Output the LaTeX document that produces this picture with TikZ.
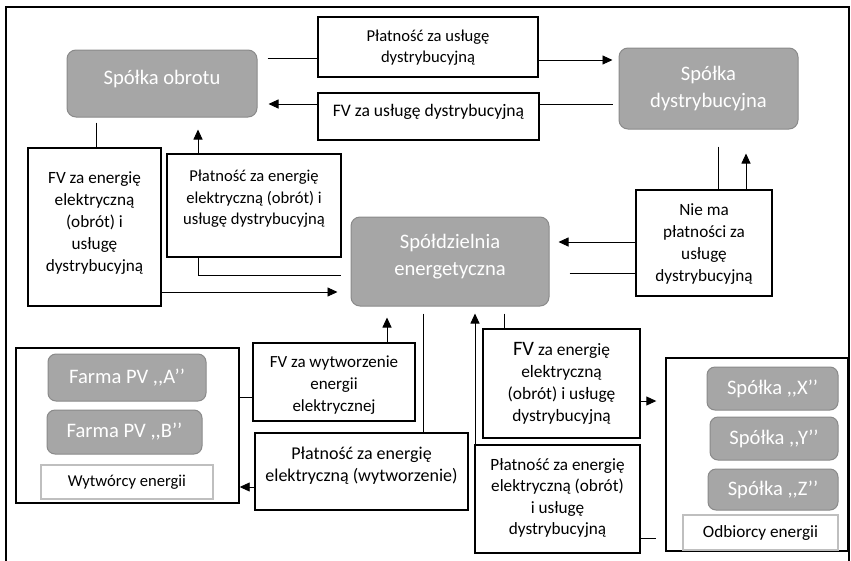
\documentclass[tikz,border=0pt]{standalone}
\usepackage{fontspec}
\setmainfont{Carlito}
\usetikzlibrary{arrows.meta}
\definecolor{grayF}{RGB}{166,166,166}
\definecolor{grayB}{RGB}{138,138,138}
\definecolor{lightB}{RGB}{191,191,191}
\newcommand\fsm{\fontsize{16.6}{21.6}\selectfont}
\newcommand\fbg{\fontsize{20.6}{27.5}\selectfont}
\tikzset{
  bx/.style={draw=black, line width=1.4pt, fill=white, inner sep=0pt},
  gbx/.style={draw=grayB, fill=grayF, line width=1pt, rounded corners=9pt, text=white, font=\fbg, align=center, inner sep=0pt},
  lbx/.style={draw=lightB, line width=1.2pt, fill=white, font=\fontsize{#1}{22}\selectfont, inner sep=0pt},
  lbx/.default=16.6,
  txt/.style={align=center, font=\fontsize{#1}{22}\selectfont, inner sep=0pt},
  txt/.default=16.6,
  wtxt/.style={align=center, text=white, font=\fbg, inner sep=0pt},
  ln/.style={line width=0.9pt},
  arr/.style={ln, -{Triangle[length=10pt,width=9pt]}},
}
\begin{document}
\begin{tikzpicture}[x=1pt,y=-1pt]
\useasboundingbox (0,0) rectangle (851,560);
% outer frame (bottom edge lies outside the picture)
\draw[line width=1.3pt] (6,575) -- (6,7) -- (849,7) -- (849,575);

% top row
\node[gbx, minimum width=190, minimum height=67] (obrot) at (162,83.5) {};
\node[wtxt] (obrot-t) at (162,79) {Spółka obrotu};
\node[bx, minimum width=220, minimum height=60] (pzusl) at (428,47) {};
\node[txt] (pzusl-t) at (428,47.5) {Płatność za usługę\\[-0.6pt]dystrybucyjną};
\node[bx, minimum width=221, minimum height=47] (fvusl) at (428.5,116.5) {};
\node[txt=17.6] (fvusl-t) at (428.5,112) {FV za usługę dystrybucyjną};
\node[gbx, minimum width=179, minimum height=81] (dystr) at (708.5,88.5) {Spółka\\dystrybucyjna};

% middle row
\node[bx, minimum width=133, minimum height=158] (fvenL) at (94.5,227) {};
\node[txt=17.2] (fvenL-t) at (94.5,223) {FV za energię\\elektryczną\\(obrót) i\\usługę\\dystrybucyjną};
\node[bx, minimum width=174, minimum height=103] (plenU) at (254,205.5) {};
\node[txt] (plenU-t) at (254,199) {Płatność za energię\\[-0.6pt]elektryczną (obrót) i\\[-0.6pt]usługę dystrybucyjną};
\node[gbx, minimum width=198, minimum height=89] (spoldz) at (450,261.5) {};
\node[wtxt] (spoldz-t) at (450,256.5) {Spółdzielnia\\energetyczna};
\node[bx, minimum width=136, minimum height=106] (niema) at (704,243) {};
\node[txt=17.2] (niema-t) at (704,244.5) {Nie ma\\płatności za\\usługę\\dystrybucyjną};

% producers
\node[bx, minimum width=223, minimum height=155] (wytw) at (127.5,425.5) {};
\node[gbx, rounded corners=8pt, minimum width=158, minimum height=47] (farmaA) at (127,377.5) {Farma PV ,{},A’’};
\node[gbx, rounded corners=8pt, minimum width=155, minimum height=44] (farmaB) at (124.5,432) {Farma PV ,{},B’’};
\node[lbx, minimum width=172, minimum height=34] (wytwL) at (127,482) {Wytwórcy energii};
\node[bx, minimum width=162, minimum height=78] (fvwyt) at (334,382) {};
\node[txt=17] (fvwyt-t) at (334,385) {FV za wytworzenie\\energii\\elektrycznej};
\node[bx, minimum width=213, minimum height=77] (plwyt) at (361.5,471.5) {};
\node[txt=18] (plwyt-t) at (361.5,466) {Płatność za energię\\elektryczną (wytworzenie)};

% consumers
\node[bx, minimum width=157, minimum height=109] (fvenR) at (561.5,383.5) {};
\node[txt=17.4] (fvenR-t) at (561.5,383.5) {{\fontsize{20.5}{20.5}\selectfont FV} za energię\\elektryczną\\(obrót) i usługę\\dystrybucyjną};
\node[bx, minimum width=165, minimum height=108] (plenR) at (557.5,499) {};
\node[txt=17.2] (plenR-t) at (557.5,498) {Płatność za energię\\[-0.6pt]elektryczną (obrót)\\[-0.6pt]i usługę\\[-0.6pt]dystrybucyjną};
\node[bx, minimum width=182, minimum height=193] (odb) at (757,454.5) {};
\node[gbx, rounded corners=8pt, minimum width=131, minimum height=43] (spX) at (772.5,388.5) {Spółka ,{},X’’};
\node[gbx, rounded corners=8pt, minimum width=128, minimum height=43] (spY) at (774,438.5) {Spółka ,{},Y’’};
\node[gbx, rounded corners=8pt, minimum width=130, minimum height=41] (spZ) at (773,489.5) {Spółka ,{},Z’’};
\node[lbx=17.2, minimum width=155, minimum height=35] (odbL) at (760.5,532.5) {Odbiorcy energii};

% connectors
\draw[ln, shorten <=10pt] (obrot.east |- 0,58) -- (pzusl.west |- 0,58);
\draw[arr, shorten >=6pt] (pzusl.east |- 0,60) -- (dystr.west |- 0,60);
\draw[arr, shorten >=11pt] (fvusl.west |- 0,104) -- (obrot.east |- 0,104);
\draw[ln, shorten <=6pt] (dystr.west |- 0,104) -- (fvusl.east |- 0,104);
\draw[ln, shorten <=5pt] (obrot.south -| 96,0) -- (fvenL.north -| 96,0);
\draw[arr, shorten >=12pt] (plenU.north -| 198,0) -- (obrot.south -| 198,0);
\draw[ln, shorten <=17pt] (dystr.south -| 718,0) -- (niema.north -| 718,0);
\draw[arr, shorten >=24pt] (niema.north -| 746,0) -- (dystr.south -| 746,0);
\draw[arr, shorten >=9pt] (niema.west |- 0,242) -- (spoldz.east |- 0,242);
\draw[ln, shorten <=20pt] (spoldz.east |- 0,273) -- (niema.west |- 0,273);
\draw[ln, shorten >=10pt] (plenU.south -| 198,0) |- (spoldz.west |- 0,275);
\draw[arr, shorten >=13pt] (fvenL.east |- 0,292) -- (spoldz.west |- 0,292);
\draw[arr, shorten >=11pt] (fvwyt.north -| 387,0) -- (spoldz.south -| 387,0);
\draw[ln, shorten <=7pt] (spoldz.south -| 423,0) -- (plwyt.north -| 423,0);
\draw[arr, shorten >=7pt] (plenR.north -| 475,0) -- (spoldz.south -| 475,0);
\draw[ln, shorten <=7pt] (spoldz.south -| 504,0) -- (fvenR.north -| 504,0);
\draw[arr, shorten >=9pt] (fvenR.east |- 0,401) -- (odb.west |- 0,401);
\draw[ln, shorten >=9pt] (plenR.east |- 0,538) -- (odb.west |- 0,538);
\draw[ln] (wytw.east |- 0,397) -- (fvwyt.west |- 0,397);
\draw[arr] (plwyt.west |- 0,487) -- (wytw.east |- 0,487);
\end{tikzpicture}
\end{document}
